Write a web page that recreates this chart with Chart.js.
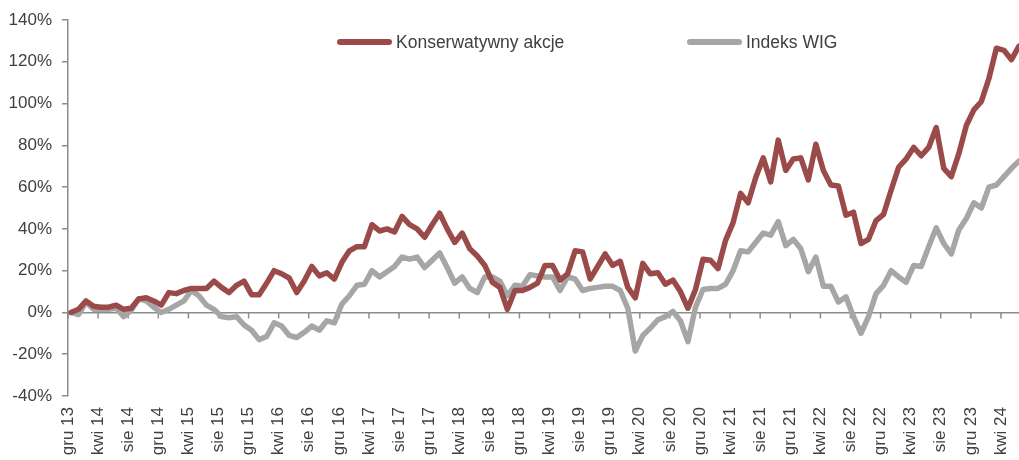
<!DOCTYPE html>
<html lang="pl">
<head>
<meta charset="utf-8">
<title>Konserwatywny akcje vs Indeks WIG</title>
<script src="https://cdn.jsdelivr.net/npm/chart.js@4"></script>
<style>
  html, body { margin: 0; padding: 0; background: #fff; }
  #wrap { position: relative; width: 1019px; height: 460px; }
  .leg { position: absolute; font-family: "Liberation Sans", Arial, sans-serif; font-size: 17.5px; color: #404040; line-height: 20px; white-space: nowrap; }
  .sw { position: absolute; height: 6px; border-radius: 3px; }
</style>
</head>
<body>
<div id="wrap">
  <canvas id="myChart" width="1019" height="460"></canvas>
</div>
<script>
// Stopa zwrotu od grudnia 2013, dane miesięczne (gru 13 - cze 24), w %
const seriesNames = ['Konserwatywny akcje', 'Indeks WIG'];

const konserwatywny = [
  0, 1.5, 5.5, 3, 2.5, 2.5, 3.5, 1.5, 2, 6.5,
  7, 5.5, 3.5, 9.5, 9, 10.5, 11.5, 11.5, 11.5, 15,
  12, 9.5, 13, 15, 8.5, 8.5, 14, 20, 18.5, 16.5,
  9.5, 15, 22, 17.5, 19, 16, 24, 29.5, 31.5, 31.5,
  42, 39, 40, 38.5, 46, 42, 40, 36, 42, 47.5,
  40, 33.5, 38, 30.5, 27, 22.5, 14.5, 12, 1.5, 10.5,
  10.5, 12, 14, 22.5, 22.5, 15.5, 18.5, 29.5, 29, 16,
  22, 28, 22.5, 24.5, 12, 7, 23.5, 18.5, 19, 13.5,
  15.5, 10, 2, 11, 25.5, 25, 21, 34.5, 43, 57,
  52.5, 64.5, 74, 62.5, 82.5, 68, 73.5, 74, 63.5, 80.5,
  68, 61, 60.5, 46.5, 48, 33, 35, 44, 47, 58.5,
  69.5, 73.5, 79, 75, 79, 88.5, 69, 65, 76, 89.5,
  97, 101, 112, 126.5, 125.5, 121, 127.5
];

const wig = [
  0, -1, 5, 1.5, 1.5, 1.5, 2, -2, 1, 6.5,
  5.5, 2.5, 0, 1.5, 3.5, 5.5, 10.5, 8, 3.5, 1.5,
  -2, -2.5, -2, -6, -8.5, -13, -11.5, -5, -6.5, -11,
  -12, -9.5, -6.5, -8.5, -4, -5, 4, 8, 13, 13.5,
  20, 17, 19.5, 22, 26.5, 25.5, 26.5, 21.5, 25, 28.5,
  21.5, 14, 17, 11.5, 9.5, 17, 17, 15, 8, 13,
  12.5, 18, 17.5, 17, 17, 10.5, 17, 16, 10.5, 11.5,
  12, 12.5, 12.5, 10.5, 2, -18.5, -11, -7.5, -3.5, -2,
  0.5, -4, -14, 2.5, 11, 11.5, 11.5, 13.5, 20, 29.5,
  29, 33.5, 38, 37, 43.5, 32, 35, 30.5, 19.5, 26.5,
  12.5, 12.5, 5, 7.5, -2, -10, -2, 9, 13, 20,
  17, 14.5, 22.5, 22, 31.5, 40.5, 33, 28, 39.5, 45,
  52.5, 50, 60, 61, 65, 69, 72.5
];

// Etykiety osi X co 4 miesiące
const tickLabels = [
  'gru 13', 'kwi 14', 'sie 14', 'gru 14', 'kwi 15', 'sie 15', 'gru 15', 'kwi 16',
  'sie 16', 'gru 16', 'kwi 17', 'sie 17', 'gru 17', 'kwi 18', 'sie 18', 'gru 18',
  'kwi 19', 'sie 19', 'gru 19', 'kwi 20', 'sie 20', 'gru 20', 'kwi 21', 'sie 21',
  'gru 21', 'kwi 22', 'sie 22', 'gru 22', 'kwi 23', 'sie 23', 'gru 23', 'kwi 24'
];
const tickStep = 4;

const colors = ['#9b4a4a', '#a6a6a6'];
const axisColor = '#8c8c8c';
const textColor = '#404040';
const shift = 0.4; // punkt danych pod koniec miesiąca

Chart.defaults.font.family = '"Liberation Sans", Arial, sans-serif';
Chart.defaults.font.size = 17;
Chart.defaults.color = textColor;

const toPoints = arr => arr.map((v, i) => ({ x: i + shift, y: v }));

// kreski osi X rysowane na linii 0%
const zeroTicks = {
  id: 'zeroTicks',
  beforeDatasetsDraw(chart) {
    const { ctx, scales: { x, y } } = chart;
    const y0 = y.getPixelForValue(0);
    ctx.save();
    ctx.strokeStyle = axisColor;
    ctx.lineWidth = 1.5;
    x.ticks.forEach(t => {
      const px = x.getPixelForValue(t.value);
      ctx.beginPath();
      ctx.moveTo(px, y0);
      ctx.lineTo(px, y0 + 6);
      ctx.stroke();
    });
    ctx.restore();
  }
};

const ctx = document.getElementById('myChart');

new Chart(ctx, {
  type: 'line',
  data: {
    datasets: [
      { label: seriesNames[0], data: toPoints(konserwatywny), borderColor: colors[0] },
      { label: seriesNames[1], data: toPoints(wig), borderColor: colors[1] }
    ]
  },
  options: {
    responsive: false,
    animation: false,
    layout: { padding: { top: 20, right: 0, bottom: 0, left: 0 } },
    elements: {
      line: { borderWidth: 5.5, tension: 0, borderCapStyle: 'round', borderJoinStyle: 'round' },
      point: { radius: 0 }
    },
    plugins: {
      legend: { display: false },
      tooltip: { enabled: false }
    },
    scales: {
      x: {
        type: 'linear',
        min: 0,
        max: konserwatywny.length - 1 + shift,
        grid: { display: false },
        border: { display: false },
        afterBuildTicks: axis => {
          axis.ticks = tickLabels.map((_, j) => ({ value: j * tickStep }));
        },
        afterFit: axis => {
          axis.height = 64;
          axis.paddingLeft = 0;
          axis.paddingRight = 0;
        },
        ticks: {
          autoSkip: false,
          minRotation: 90,
          maxRotation: 90,
          padding: 3,
          callback: (v, i) => tickLabels[i]
        }
      },
      y: {
        min: -40,
        max: 140,
        ticks: {
          stepSize: 20,
          padding: 10,
          callback: v => v + '%'
        },
        grid: {
          color: c => c.tick && c.tick.value === 0 ? axisColor : 'transparent',
          tickColor: axisColor,
          tickLength: 6,
          lineWidth: 1.5
        },
        border: { display: true, color: axisColor, width: 1.5 },
        afterFit: axis => {
          axis.width = 68;
          axis.paddingTop = 0;
          axis.paddingBottom = 0;
        }
      }
    }
  },
  plugins: [zeroTicks]
});

// legenda na wykresie
const legendPos = [
  { sw: 337, text: 396 },
  { sw: 687, text: 746 }
];
const wrap = document.getElementById('wrap');
seriesNames.forEach((name, i) => {
  const sw = document.createElement('span');
  sw.className = 'sw';
  sw.style.left = legendPos[i].sw + 'px';
  sw.style.top = '39px';
  sw.style.width = '55px';
  sw.style.background = colors[i];
  wrap.appendChild(sw);
  const txt = document.createElement('span');
  txt.className = 'leg';
  txt.style.left = legendPos[i].text + 'px';
  txt.style.top = '32px';
  txt.textContent = name;
  wrap.appendChild(txt);
});
</script>
</body>
</html>
